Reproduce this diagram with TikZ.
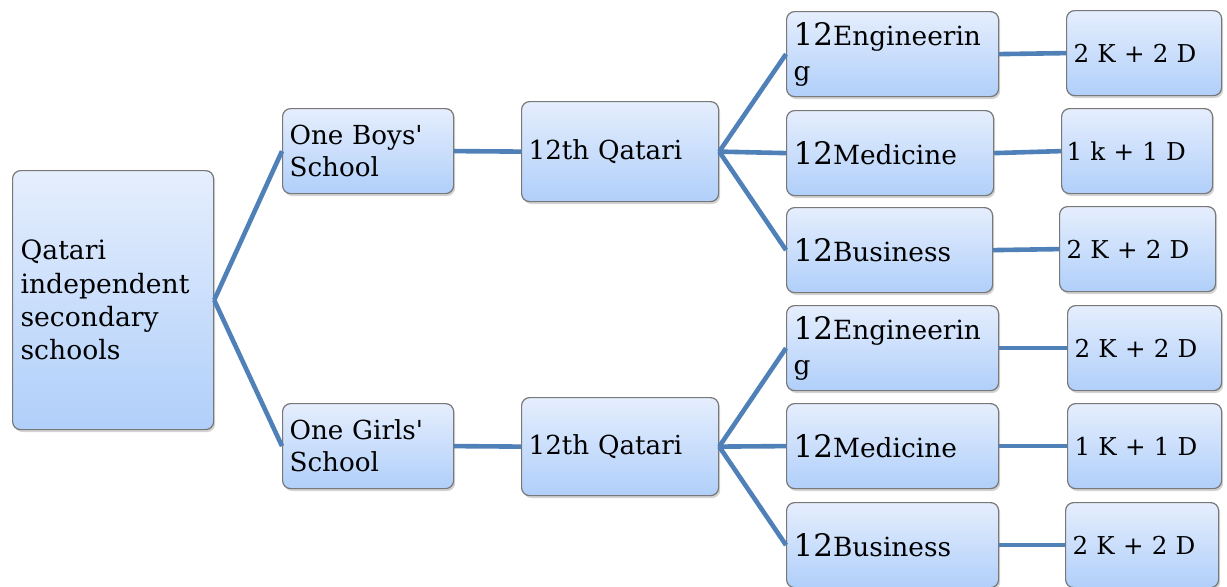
\documentclass[tikz,border=0pt]{standalone}
\usepackage{fontspec}
\setmainfont{DejaVu Serif}[Ligatures=TeXOff]
\usepackage{tikz}
\usetikzlibrary{shadows}
\definecolor{linkblue}{RGB}{80,128,184}
\definecolor{boxtop}{RGB}{229,238,253}
\definecolor{boxbot}{RGB}{176,207,250}
\definecolor{boxline}{RGB}{120,120,120}
\newcommand{\twelve}{{\fontsize{15.5}{17.5}\selectfont 12}}
\tikzset{
  box/.style={draw=boxline, line width=0.6pt, rounded corners=4pt,
    top color=boxtop, bottom color=boxbot, anchor=north west, align=left,
    inner xsep=3.5pt, inner ysep=2pt,
    drop shadow={shadow xshift=0.8pt, shadow yshift=-1.2pt, opacity=0.35}},
  link/.style={draw=linkblue, line width=2.3pt},
  txt/.style={font={\fontsize{13.1}{16}\selectfont}},
  field/.style={font={\fontsize{13.2}{17.5}\selectfont}, text width=#1, minimum height=42.5pt},
  mix/.style={font={\fontsize{12.3}{15}\selectfont}, text width=#1, minimum height=42.5pt}
}

\begin{document}
\begin{tikzpicture}[x=0.5pt,y=-0.5pt]
\useasboundingbox (0,0) rectangle (1227,586);
    % schools
    \node[box, txt, font={\fontsize{13.3}{16.6}\selectfont}, inner xsep=4pt, text width=92.5pt, minimum height=129.5pt] (root) at (12,170) {Qatari\\independent\\secondary\\schools};
    \node[box, txt, text width=78.5pt, minimum height=42.5pt] (boys) at (282,108) {One Boys'\\School};
    \node[box, txt, text width=78.5pt, minimum height=42.5pt] (girls) at (282,403) {One Girls'\\School};
    \node[box, txt, text width=91.5pt, minimum height=50pt] (qb) at (521,101) {12th Qatari};
    \node[box, txt, text width=91.5pt, minimum height=49pt] (qg) at (521,397) {12th Qatari};
    % streams
    \node[box, field=99pt] (engb) at (786,11) {\twelve Engineerin\\g};
    \node[box, field=96.5pt] (medb) at (786,110) {\twelve Medicine};
    \node[box, field=96pt] (busb) at (786,207) {\twelve Business};
    \node[box, field=99pt] (engg) at (786,305) {\twelve Engineerin\\g};
    \node[box, field=99pt] (medg) at (786,403) {\twelve Medicine};
    \node[box, field=99pt] (busg) at (786,502) {\twelve Business};
    % places
    \node[box, mix=70.5pt] (kb1) at (1066,10) {2 K + 2 D};
    \node[box, mix=70.5pt, inner xsep=2.5pt] (kb2) at (1061,108) {1 k + 1 D};
    \node[box, mix=71pt] (kb3) at (1059,206) {2 K + 2 D};
    \node[box, mix=70pt] (kg1) at (1067,305) {2 K + 2 D};
    \node[box, mix=70pt] (kg2) at (1067,403) {1 K + 1 D};
    \node[box, mix=69.5pt] (kg3) at (1065,502) {2 K + 2 D};
    \foreach \a/\b in {root/boys, root/girls, boys/qb, girls/qg,
        qb/engb, qb/medb, qb/busb, qg/engg, qg/medg, qg/busg,
        engb/kb1, medb/kb2, busb/kb3, engg/kg1, medg/kg2, busg/kg3}
        \draw[link] (\a.east) -- (\b.west);
\end{tikzpicture}
\end{document}
